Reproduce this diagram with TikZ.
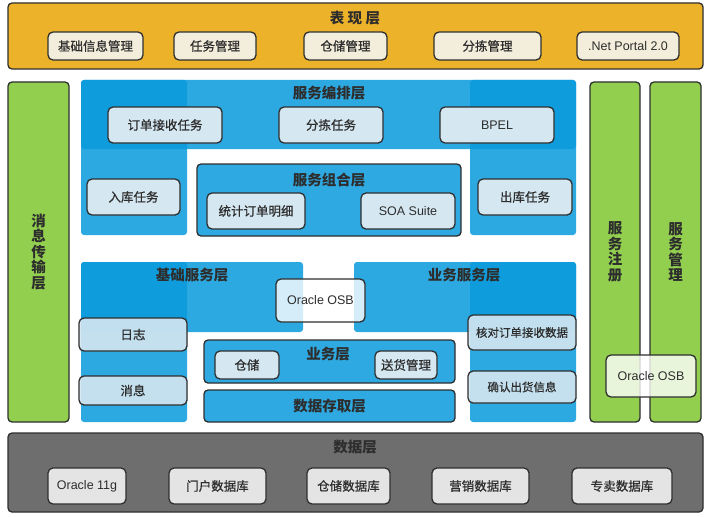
\documentclass[tikz,border=0pt]{standalone}
\usepackage{fontspec}
\setmainfont{Liberation Sans}
\newfontfamily\cjk{Noto Sans CJK SC}
\newfontfamily\cjkmid[FakeBold=0.6]{Noto Sans CJK SC}
\definecolor{orangebar}{HTML}{ECB22A}
\definecolor{cream}{HTML}{F3EEDB}
\definecolor{bluelayer}{HTML}{099ADC}
\definecolor{bluebox}{HTML}{2EA9E1}
\definecolor{paleblue}{HTML}{D5E7F1}
\definecolor{greenbar}{HTML}{92CF4F}
\definecolor{graybar}{HTML}{6E6E6E}
\definecolor{graybox}{HTML}{E4E4E4}
\definecolor{edge}{HTML}{2F2F2F}
\definecolor{ink}{HTML}{2D2D2D}
\begin{document}
\begin{tikzpicture}[x=1pt, y=-1pt]

    % estilos
    \tikzstyle{layer}=[draw=edge, line width=1.3pt, rounded corners=4pt, inner sep=0pt]
    \tikzstyle{band}=[fill=bluelayer, fill opacity=0.85, rounded corners=3pt, inner sep=0pt]
    \tikzstyle{item}=[draw=edge, line width=1.3pt, rounded corners=5pt, inner sep=0pt, text=ink, font=\cjkmid\fontsize{12.5}{14}\selectfont]
    \tikzstyle{latin}=[font=\normalfont\fontsize{12.5}{14}\selectfont]
    \tikzstyle{small}=[font=\cjkmid\fontsize{11.5}{13}\selectfont]
    \tikzstyle{title}=[text=ink, inner sep=0pt, font=\cjk\bfseries\fontsize{14.5}{16}\selectfont]
    \tikzstyle{vtitle}=[text=ink, inner sep=0pt, align=center, font=\cjk\bfseries\fontsize{14.5}{15.5}\selectfont]

    \useasboundingbox[fill=white] (0,0) rectangle (708,516);

    %======================= 表现层 =======================
    \node[layer, fill=orangebar, minimum width=695, minimum height=66] (present) at (355.5,36) {};
    \node[title] (presentT) at (355,18) {表\ 现\ 层};
    \node[item, fill=cream, minimum width=95,  minimum height=28] (basinfo) at (95.5,46)  {基础信息管理};
    \node[item, fill=cream, minimum width=82,  minimum height=28] (taskmgr) at (215,46)   {任务管理};
    \node[item, fill=cream, minimum width=83,  minimum height=28] (storemgr) at (345.5,46) {仓储管理};
    \node[item, fill=cream, minimum width=107, minimum height=28] (sortmgr) at (487.5,46) {分拣管理};
    \node[item, latin, fill=cream, minimum width=102, minimum height=28] (portal) at (628,46) {.Net Portal 2.0};

    %======================= 侧栏 =======================
    \node[layer, fill=greenbar, minimum width=61, minimum height=340] (msgbus) at (38.5,252) {};
    \node[vtitle] (msgbusT) at (38.5,252) {消\\息\\传\\输\\层};
    \node[layer, fill=greenbar, minimum width=50, minimum height=340] (registry) at (615,252) {};
    \node[vtitle] (registryT) at (615,252) {服\\务\\注\\册};
    \node[layer, fill=greenbar, minimum width=51, minimum height=340] (svcmgr) at (675.5,252) {};
    \node[vtitle] (svcmgrT) at (675.5,252) {服\\务\\管\\理};
    \node[item, latin, fill=white, fill opacity=0.8, text opacity=1, minimum width=90, minimum height=42] (osbR) at (651,376) {Oracle OSB};

    %======================= 服务编排层 =======================
    \node[band, minimum width=495, minimum height=69]  (orch)  at (328.5,114.5) {};
    \node[band, minimum width=106, minimum height=155] (orchL) at (134,157.5) {};
    \node[band, minimum width=106, minimum height=155] (orchR) at (523,157.5) {};
    \node[title] (orchT) at (329,93) {服务编排层};
    \node[item, fill=paleblue, minimum width=114, minimum height=36] (ordertask) at (165,125) {订单接收任务};
    \node[item, fill=paleblue, minimum width=104, minimum height=36] (sorttask)  at (331,125) {分拣任务};
    \node[item, latin, fill=paleblue, minimum width=114, minimum height=36] (bpel) at (497,125) {BPEL};
    \node[item, fill=paleblue, minimum width=93, minimum height=36] (intask)  at (133.5,197) {入库任务};
    \node[item, fill=paleblue, minimum width=94, minimum height=36] (outtask) at (525,197)   {出库任务};

    % 服务组合层
    \node[layer, fill=bluebox, minimum width=264, minimum height=72] (compose) at (329,200) {};
    \node[title] (composeT) at (329,180) {服务组合层};
    \node[item, fill=paleblue, minimum width=98, minimum height=36] (stat) at (256,211) {统计订单明细};
    \node[item, latin, fill=paleblue, minimum width=94, minimum height=36] (soa) at (408,211) {SOA Suite};

    %======================= 基础 / 业务服务层 =======================
    \node[band, minimum width=222, minimum height=70]  (basic)  at (192,297) {};
    \node[band, minimum width=106, minimum height=160] (basicL) at (134,342) {};
    \node[band, minimum width=222, minimum height=70]  (biz)    at (465,297) {};
    \node[band, minimum width=106, minimum height=160] (bizR)   at (523,342) {};
    \node[title] (basicT) at (192,275) {基础服务层};
    \node[title] (bizT)   at (464,275) {业务服务层};
    \node[item, latin, fill=white, fill opacity=0.8, text opacity=1, minimum width=89, minimum height=43] (osb) at (320.5,300.5) {Oracle OSB};

    \node[item, fill=paleblue, fill opacity=0.9, text opacity=1, minimum width=108, minimum height=33] (log) at (133,334.5) {日志};
    \node[item, fill=paleblue, fill opacity=0.9, text opacity=1, minimum width=108, minimum height=29] (msg) at (133,390.5) {消息};
    \node[item, small, fill=paleblue, fill opacity=0.9, text opacity=1, minimum width=108, minimum height=35] (check) at (522,332.5) {核对订单接收数据};
    \node[item, small, fill=paleblue, fill opacity=0.9, text opacity=1, minimum width=108, minimum height=32] (confirm) at (522,387) {确认出货信息};

    % 业务层 e 数据存取层
    \node[layer, fill=bluebox, minimum width=251, minimum height=43] (bizlayer) at (329.5,361.5) {};
    \node[title] (bizlayerT) at (328,354) {业务层};
    \node[item, fill=paleblue, minimum width=64, minimum height=28] (store)    at (247,365) {仓储};
    \node[item, fill=paleblue, minimum width=62, minimum height=28] (delivery) at (406,365) {送货管理};
    \node[layer, fill=bluebox, minimum width=251, minimum height=32] (access) at (329.5,406) {};
    \node[title] (accessT) at (329.5,406) {数据存取层};

    %======================= 数据层 =======================
    \node[layer, fill=graybar, minimum width=695, minimum height=79] (data) at (355.5,472.5) {};
    \node[title] (dataT) at (355,447) {数据层};
    \node[item, latin, fill=graybox, minimum width=78, minimum height=36] (oracle) at (87,486) {Oracle 11g};
    \node[item, fill=graybox, minimum width=97,  minimum height=36] (portaldb) at (217.5,486) {门户数据库};
    \node[item, fill=graybox, minimum width=83,  minimum height=36] (storedb)  at (348.5,486) {仓储数据库};
    \node[item, fill=graybox, minimum width=97,  minimum height=36] (salesdb)  at (480.5,486) {营销数据库};
    \node[item, fill=graybox, minimum width=100, minimum height=36] (monodb)   at (622,486)   {专卖数据库};

\end{tikzpicture}
\end{document}
